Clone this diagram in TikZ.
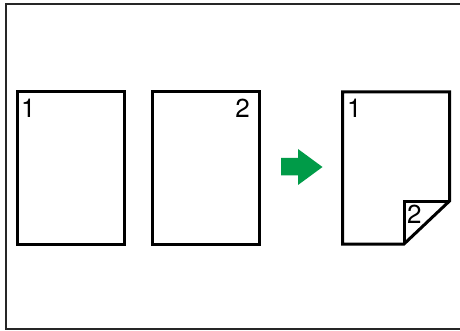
\documentclass[tikz,border=0pt]{standalone}
\usepackage{fontspec}
\setmainfont{TeX Gyre Heros}
\begin{document}
\begin{tikzpicture}[x=1pt,y=-1pt,
  page/.style={draw=black,line width=3pt,minimum width=107pt,minimum height=152pt,inner sep=0pt,outer sep=0pt},
  num/.style={font=\fontsize{26}{26}\selectfont,inner sep=0pt},
  frame/.style={draw=black!85,line width=2pt}]
\useasboundingbox (0,0) rectangle (460,331);
\fill[white] (0,0) rectangle (460,331);
\draw[frame] (462,4.5) -- (5.5,4.5) -- (5.5,329) -- (462,329);
\node[page] (p1) at (70.5,168) {};
\node[page] (p2) at (206,168) {};
\node[num,anchor=north west] (n1) at (21,98.5) {1};
\node[num,anchor=north east] (n2) at (250,98.5) {2};
% arrow
\fill[fill={rgb,255:red,0;green,155;blue,72}] (281,158) -- (298,158) -- (298,149) -- (322.5,167) -- (298,185) -- (298,175.5) -- (281,175.5) -- cycle;
% folded page
\coordinate (c1) at (342.5,92);
\coordinate (c2) at (449.5,92);
\coordinate (c3) at (449.5,201);
\coordinate (c4) at (404,244);
\coordinate (c5) at (342.5,244);
\coordinate (f) at (404,201);
\draw[line width=3pt,line join=miter] (c1) -- (c2) -- (c3) -- (c4) -- (c5) -- cycle;
\draw[line width=3pt,line join=miter] (c4) -- (f) -- (c3);
\node[num,anchor=north west] (n3) at (347,98.5) {1};
\node[num,anchor=north west] (n4) at (407,204.5) {2};
\end{tikzpicture}
\end{document}
